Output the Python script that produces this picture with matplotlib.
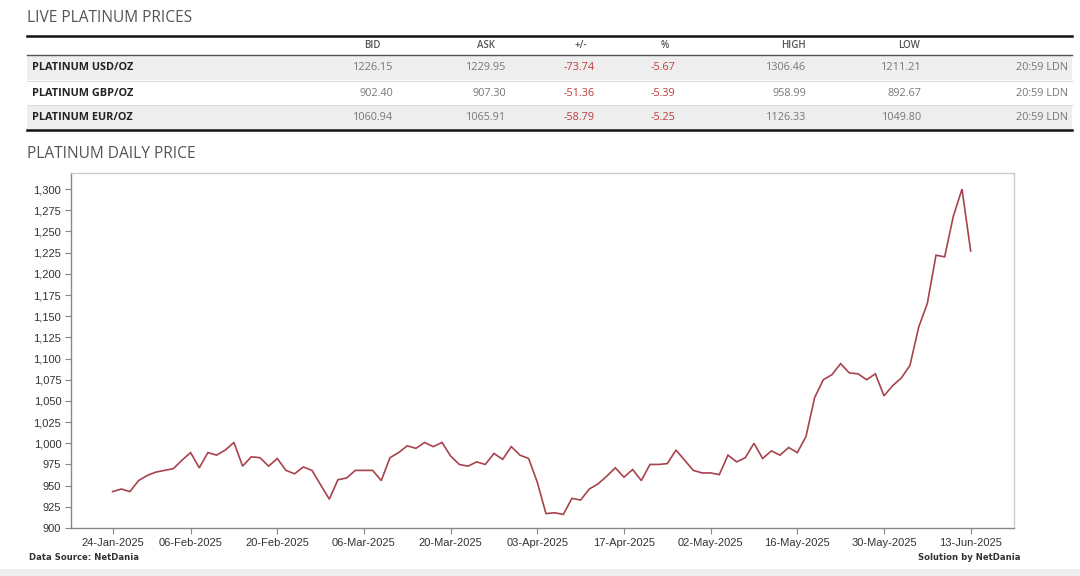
import matplotlib
matplotlib.use('Agg')
import matplotlib.pyplot as plt
from matplotlib.patches import Rectangle
from matplotlib.lines import Line2D
from matplotlib.ticker import FuncFormatter, FixedLocator

W, H = 1080, 576

# ---- data ----
prices = [943, 946, 943, 956, 962, 966, 968, 970, 980, 989,
          971, 989, 986, 992, 1001, 973, 984, 983, 973, 982,
          968, 964, 972, 968, 951, 934, 957, 959, 968, 968,
          968, 956, 983, 989, 997, 994, 1001, 996, 1001, 985,
          975, 973, 978, 975, 988, 981, 996, 986, 982, 954,
          917, 918, 916, 935, 933, 946, 952, 961, 971, 960,
          969, 956, 975, 975, 976, 992, 980, 968, 965, 965,
          963, 986, 978, 983, 1000, 982, 991, 986, 995, 989,
          1008, 1054, 1075, 1081, 1094, 1083, 1082, 1075, 1082, 1056,
          1068, 1077, 1092, 1137, 1165, 1222, 1220, 1268, 1300, 1227]
date_labels = ["24-Jan-2025", "06-Feb-2025", "20-Feb-2025", "06-Mar-2025",
               "20-Mar-2025", "03-Apr-2025", "17-Apr-2025", "02-May-2025",
               "16-May-2025", "30-May-2025", "13-Jun-2025"]
date_label_index = [0, 9, 19, 29, 39, 49, 59, 69, 79, 89, 99]
y_ticks = list(range(900, 1301, 25))

col_headers = ["BID", "ASK", "+/-", "%", "HIGH", "LOW"]
row_names = ["PLATINUM USD/OZ", "PLATINUM GBP/OZ", "PLATINUM EUR/OZ"]
bid = ["1226.15", "902.40", "1060.94"]
ask = ["1229.95", "907.30", "1065.91"]
change = ["-73.74", "-51.36", "-58.79"]
pct = ["-5.67", "-5.39", "-5.25"]
high = ["1306.46", "958.99", "1126.33"]
low = ["1211.21", "892.67", "1049.80"]
times = ["20:59 LDN", "20:59 LDN", "20:59 LDN"]

# ---- figure ----
fig = plt.figure(figsize=(10.8, 5.76), dpi=100)
fig.patch.set_facecolor('white')


def fx(x):
    return x / W


def fy(y):
    return 1 - y / H


HEAD_FONT = ['Open Sans', 'DejaVu Sans']
CHART_FONT = ['Liberation Sans', 'DejaVu Sans']

fig.text(fx(27), fy(18), "LIVE PLATINUM PRICES", fontsize=11.2, color='#555555',
         family=HEAD_FONT, va='center', ha='left')
fig.text(fx(27), fy(154), "PLATINUM DAILY PRICE", fontsize=11.2, color='#555555',
         family=HEAD_FONT, va='center', ha='left')

# table backgrounds
row_tops = [56, 81, 105]
row_h = 24
for i, top in enumerate(row_tops):
    if i != 1:
        fig.patches.append(Rectangle((fx(27), fy(top + row_h)), fx(1072) - fx(27),
                                     fy(top) - fy(top + row_h), transform=fig.transFigure,
                                     facecolor='#eeeeee', edgecolor='none', zorder=0))
for yy in [80.5, 104.5]:
    fig.lines.append(Line2D([fx(27), fx(1072)], [fy(yy), fy(yy)], transform=fig.transFigure,
                            color='#dddddd', lw=0.8))
fig.lines.append(Line2D([fx(27), fx(1072)], [fy(36), fy(36)], transform=fig.transFigure,
                        color='#111111', lw=1.8))
fig.lines.append(Line2D([fx(27), fx(1072)], [fy(55), fy(55)], transform=fig.transFigure,
                        color='#555555', lw=1.0))
fig.lines.append(Line2D([fx(27), fx(1072)], [fy(130), fy(130)], transform=fig.transFigure,
                        color='#111111', lw=1.8))

head_x = [372, 486, 581, 665, 793, 909]
for label, x in zip(col_headers, head_x):
    fig.text(fx(x), fy(45), label, fontsize=7, color='#555555', family=HEAD_FONT,
             ha='center', va='center', fontweight='semibold')

value_right = [393, 506, 595, 675, 806, 922, 1068]
columns = [bid, ask, change, pct, high, low, times]
for r, top in enumerate(row_tops):
    yc = fy(top + row_h / 2)
    fig.text(fx(32), yc, row_names[r], fontsize=7.8, color='#222222', family=HEAD_FONT,
             fontweight='bold', ha='left', va='center')
    for c, (col, xr) in enumerate(zip(columns, value_right)):
        color = '#c0393b' if c in (2, 3) else '#777777'
        fig.text(fx(xr), yc, col[r], fontsize=7.8, color=color, family=HEAD_FONT,
                 ha='right', va='center')

# ---- chart ----
ax_left, ax_right, ax_top, ax_bottom = 71, 1014, 173, 528
ax = fig.add_axes([fx(ax_left), fy(ax_bottom), fx(ax_right) - fx(ax_left),
                   fy(ax_top) - fy(ax_bottom)])
x = list(range(len(prices)))
ax.plot(x, prices, color='#a8434d', lw=1.2, solid_joinstyle='miter')
ax.set_xlim(-4.8, 104)
ax.set_ylim(900, 1319)
ax.yaxis.set_major_locator(FixedLocator(y_ticks))
ax.yaxis.set_major_formatter(FuncFormatter(lambda v, p: f"{int(v):,}"))
ax.set_xticks(date_label_index)
ax.set_xticklabels(date_labels)
for lab in ax.get_xticklabels() + ax.get_yticklabels():
    lab.set_family(CHART_FONT)
    lab.set_fontsize(8)
    lab.set_color('#333333')
ax.tick_params(axis='both', direction='out', length=4, width=0.8, color='#888888', pad=3)
for side in ['top', 'right']:
    ax.spines[side].set_color('#cccccc')
    ax.spines[side].set_linewidth(1.0)
for side in ['left', 'bottom']:
    ax.spines[side].set_color('#888888')
    ax.spines[side].set_linewidth(1.0)

fig.text(fx(29), fy(558), "Data Source: NetDania", fontsize=6.1, fontweight='bold',
         color='#333333', family=['DejaVu Sans'], ha='left', va='center')
fig.text(fx(1020), fy(558), "Solution by NetDania", fontsize=6.1, fontweight='bold',
         color='#333333', family=['DejaVu Sans'], ha='right', va='center')

fig.patches.append(Rectangle((0, 0), 1, fy(569), transform=fig.transFigure,
                             facecolor='#eeeeee', edgecolor='none', zorder=0))

fig.savefig('out.png', dpi=100, facecolor='white')
